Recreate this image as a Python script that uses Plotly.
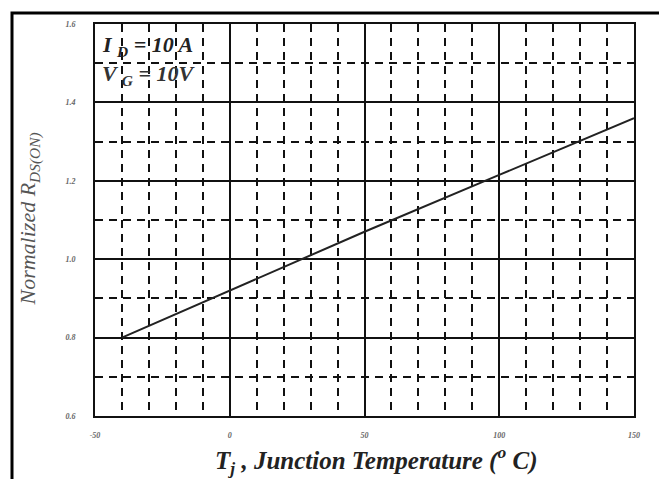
import plotly.graph_objects as go

# Data
temp_c = [-40, 0, 50, 100, 150]
norm_rds = [0.80, 0.92, 1.07, 1.215, 1.36]

x_ticks = [-50, 0, 50, 100, 150]
x_tick_labels = ["-50", "0", "50", "100", "150"]
y_ticks = [0.6, 0.8, 1.0, 1.2, 1.4, 1.6]
y_tick_labels = ["0.6", "0.8", "1.0", "1.2", "1.4", "1.6"]

OFF = 8  # page body margin
W, H = 667 - OFF, 479 - OFF
L, T = 95 - OFF, 21 - OFF
R, B = W - (634 - OFF), H - (416 - OFF)
pw, ph = W - L - R, H - T - B

def px_x(p):
    return (p - OFF - L) / pw

def px_y(p):
    return (H - B - (p - OFF)) / ph

serif = "Liberation Serif, Times New Roman, serif"

fig = go.Figure()
fig.add_trace(go.Scatter(
    x=temp_c, y=norm_rds, mode="lines",
    line=dict(color="#222222", width=2),
    showlegend=False, hoverinfo="skip",
))

tickfont = dict(family=serif, size=8, color="#666666", style="italic", weight="bold")
dash = "8px,6px"

fig.update_xaxes(
    range=[-50, 150], tickmode="array", tickvals=x_ticks, ticktext=x_tick_labels,
    showgrid=True, gridcolor="#111111", gridwidth=1.6,
    minor=dict(dtick=10, tick0=0, showgrid=True, gridcolor="#111111", gridwidth=1.8, griddash=dash),
    showline=True, mirror=True, linecolor="#111111", linewidth=2,
    zeroline=False, ticks="", tickfont=tickfont, ticklabelstandoff=10,
)
fig.update_yaxes(
    range=[0.6, 1.6], tickmode="array", tickvals=y_ticks, ticktext=y_tick_labels,
    showgrid=True, gridcolor="#111111", gridwidth=1.6,
    minor=dict(dtick=0.1, tick0=0.6, showgrid=True, gridcolor="#111111", gridwidth=1.8, griddash=dash),
    showline=True, mirror=True, linecolor="#111111", linewidth=2,
    zeroline=False, ticks="", tickfont=tickfont, ticklabelstandoff=16,
)

annotations = [
    dict(text="I <sub>D</sub> = 10 A", x=px_x(100), y=px_y(43), xref="paper", yref="paper",
         xanchor="left", yanchor="middle", showarrow=False,
         font=dict(family=serif, size=22, color="#222222", style="italic", weight="bold")),
    dict(text="V <sub>G</sub> = 10V", x=px_x(100), y=px_y(72), xref="paper", yref="paper",
         xanchor="left", yanchor="middle", showarrow=False,
         font=dict(family=serif, size=22, color="#333333", style="italic", weight="bold")),
    dict(text="Normalized R<sub>DS(ON)</sub>", x=px_x(30), y=px_y(218), xref="paper", yref="paper",
         xanchor="center", yanchor="middle", textangle=-90, showarrow=False,
         font=dict(family=serif, size=22, color="#555555", style="italic")),
    dict(text="T<sub>j</sub> , Junction Temperature (<sup>o</sup> C)", x=px_x(376), y=px_y(460),
         xref="paper", yref="paper", xanchor="center", yanchor="middle", showarrow=False,
         font=dict(family=serif, size=25, color="#222222", style="italic", weight="bold")),
]

shapes = [
    dict(type="rect", xref="paper", yref="paper",
         x0=px_x(12), x1=px_x(664), y0=px_y(10), y1=px_y(490),
         line=dict(color="black", width=3), fillcolor="rgba(0,0,0,0)", layer="above"),
]

fig.update_layout(
    width=W, height=H,
    margin=dict(l=L, r=R, t=T, b=B),
    plot_bgcolor="white", paper_bgcolor="white",
    annotations=annotations, shapes=shapes,
    showlegend=False,
)

fig.write_html("out.html")
